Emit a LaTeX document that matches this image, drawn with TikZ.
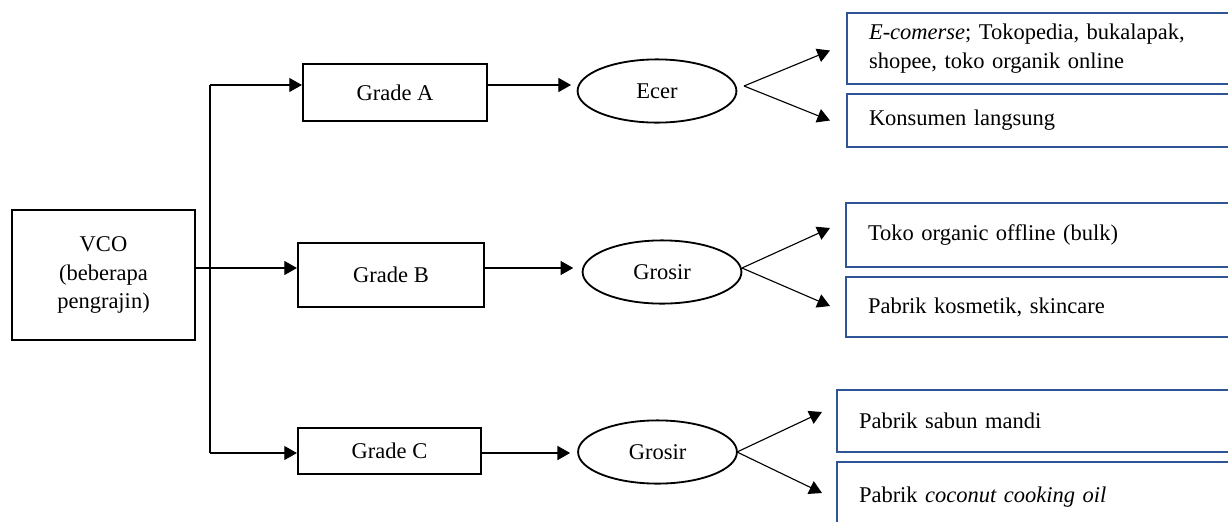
\documentclass[tikz,border=0pt]{standalone}
\usepackage{fontspec}
\setmainfont{Liberation Serif}
\usetikzlibrary{shapes.geometric, arrows.meta, positioning, calc}
\definecolor{boxblue}{RGB}{47,85,151}

\begin{document}
\begin{tikzpicture}[x=0.025cm, y=-0.025cm,
    font=\fontsize{16}{20.5}\selectfont,
    >={Triangle[length=9pt,width=10pt]},
    grade/.style={draw, line width=1.5pt, rectangle, align=center},
    market/.style={draw, line width=1.3pt, ellipse, inner sep=0pt, minimum width=3.97cm, minimum height=1.58cm},
    buyer/.style={draw=boxblue, line width=1.4pt, rectangle, anchor=west, minimum width=10cm, text width=8.9cm, inner xsep=0.55cm, align=left},
    link/.style={->, line width=0.8pt}]
      \useasboundingbox (0,0) rectangle (1228,521);
      \clip (0,0) rectangle (1228,521);

      % Source
      \node[grade, minimum width=4.575cm, minimum height=3.25cm] (vco) at (103.5,275) {VCO\\(beberapa\\pengrajin)};

      % Grades
      \node[grade, minimum width=4.6cm, minimum height=1.425cm] (gA) at (395,92.5) {Grade A};
      \node[grade, minimum width=4.65cm, minimum height=1.6cm] (gB) at (391,275) {Grade B};
      \node[grade, minimum width=4.575cm, minimum height=1.15cm] (gC) at (389.5,451) {Grade C};

      % Markets
      \node[market] (ecer) at (657,91) {Ecer};
      \node[market] (grosirB) at (662,272) {Grosir};
      \node[market] (grosirC) at (657.5,452) {Grosir};

      % Buyers
      \node[buyer, minimum height=1.775cm] (online) at (846,48.5) {\emph{E-comerse}; Tokopedia, bukalapak,\\shopee, toko organik online};
      \node[buyer, minimum height=1.325cm] (direct) at (846,120.5) {Konsumen langsung};
      \node[buyer, minimum height=1.6cm] (offline) at (845,235) {Toko organic offline (bulk)};
      \node[buyer, minimum height=1.5cm] (cosmetic) at (845,307) {Pabrik kosmetik, skincare};
      \node[buyer, minimum height=1.55cm] (soap) at (836,421) {Pabrik sabun mandi};
      \node[buyer, minimum height=1.75cm] (cooking) at (836,497) {Pabrik \emph{coconut cooking oil}};

      % Trunk
      \coordinate (tA) at (210,85);
      \coordinate (tB) at (210,268);
      \coordinate (tC) at (210,453);
      \draw[line width=0.8pt] (tA) -- (tC);
      \draw[line width=0.8pt] (vco.east |- tB) -- (tB);
      \draw[link] (tA) -- (gA.west |- tA);
      \draw[link] (tB) -- (gB.west |- tB);
      \draw[link] (tC) -- (gC.west |- tC);

      % Grade to market
      \draw[link, shorten >=4pt] (gA.east |- tA) -- (ecer.west |- tA);
      \draw[link, shorten >=6pt] (gB.east |- tB) -- (grosirB.west |- tB);
      \draw[link, shorten >=5pt] (gC.east |- tC) -- (grosirC.west |- tC);

      % Forks
      \coordinate (fA) at (744,86);
      \coordinate (fB) at (742,268);
      \coordinate (fC) at (737,452);
      \draw[link] (fA) -- ($(online.west)+(-16,2)$);
      \draw[link] (fA) -- ($(direct.west)+(-16,0)$);
      \draw[link] (fB) -- ($(offline.west)+(-15,-7)$);
      \draw[link] (fB) -- ($(cosmetic.west)+(-15,-1)$);
      \draw[link] (fC) -- ($(soap.west)+(-14,-9)$);
      \draw[link] (fC) -- ($(cooking.west)+(-14,-4)$);
    \end{tikzpicture}
\end{document}
